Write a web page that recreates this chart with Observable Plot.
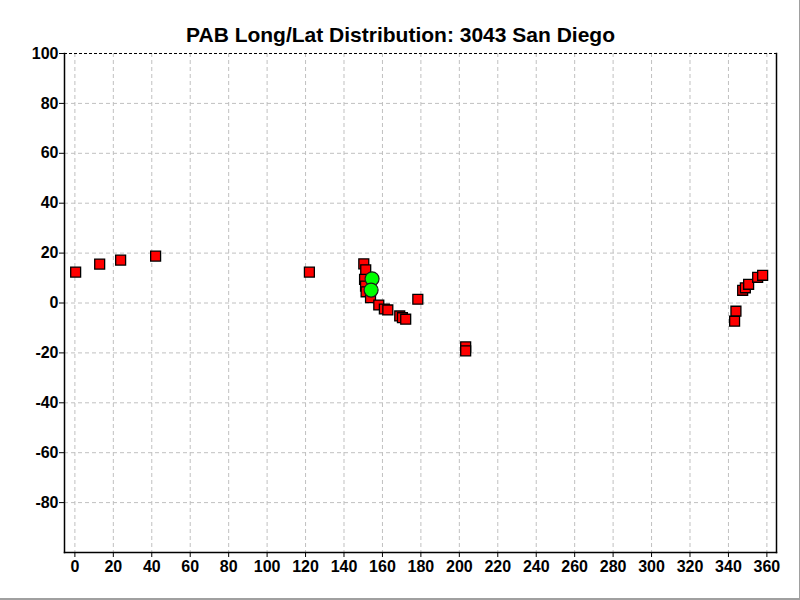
<!DOCTYPE html>
<html>
<head>
<meta charset="utf-8">
<script src="https://cdn.jsdelivr.net/npm/d3@7"></script>
<script src="https://cdn.jsdelivr.net/npm/@observablehq/plot@0.6"></script>
<style>
  html, body { margin: 0; padding: 0; background: #fff; }
  #wrap { position: relative; width: 800px; height: 600px; overflow: hidden; }
  #edge { position: absolute; left: 0; top: 0; width: 799px; height: 598px; border-right: 1px solid #a0a0a0; border-bottom: 2px solid #a0a0a0; pointer-events: none; }
</style>
</head>
<body>
<div id="wrap"><div id="edge"></div></div>
<script>
const title = "PAB Long/Lat Distribution: 3043 San Diego";
const xDomain = [-5.4, 365];
const yDomain = [-100, 100];
const xTicks = [0, 20, 40, 60, 80, 100, 120, 140, 160, 180, 200, 220, 240, 260, 280, 300, 320, 340, 360];
const yTicks = [-80, -60, -40, -20, 0, 20, 40, 60, 80, 100];

// red squares
const squareLon = [0.4, 12.9, 23.8, 42.0, 122.0, 150.3, 151.3, 150.7, 151.2, 151.5, 153.8, 158.1, 161.0, 162.8, 169.0, 170.4, 172.1, 178.4, 203.3, 203.3, 343.9, 343.2, 347.4, 348.8, 350.5, 355.2, 357.8];
const squareLat = [12.4, 15.6, 17.2, 18.8, 12.4, 15.7, 13.3, 9.5, 6.8, 4.5, 2.1, -0.8, -2.4, -2.8, -5.2, -5.9, -6.5, 1.5, -17.6, -19.2, -3.3, -7.3, 5.1, 6.1, 7.5, 10.3, 11.1];
// green circles
const circleLon = [154.6, 154.1];
const circleLat = [9.7, 5.2];

const squares = squareLon.map((lon, i) => ({lon, lat: squareLat[i]}));
const circles = circleLon.map((lon, i) => ({lon, lat: circleLat[i]}));

const font = "'Liberation Sans', Arial, sans-serif";

const chart = Plot.plot({
  width: 800,
  height: 600,
  marginLeft: 64,
  marginRight: 24,
  marginTop: 53,
  marginBottom: 48,
  style: {fontFamily: font, fontSize: "16px", fontWeight: "bold", color: "#000", background: "#fff"},
  x: {domain: xDomain, ticks: xTicks, tickSize: 5, tickPadding: 3, tickFormat: d => String(d), label: null},
  y: {domain: yDomain, ticks: yTicks, tickSize: 5, tickPadding: 1, tickFormat: d => String(d), label: null},
  marks: [
    Plot.ruleX(xTicks, {stroke: "#c0c0c0", strokeOpacity: 1, strokeDasharray: "4,3"}),
    Plot.ruleY(yTicks.slice(0, -1), {stroke: "#c0c0c0", strokeOpacity: 1, strokeDasharray: "4,3"}),
    Plot.frame({anchor: "left", stroke: "#000", strokeWidth: 1.5}),
    Plot.frame({anchor: "bottom", stroke: "#000", strokeWidth: 1.5}),
    Plot.frame({anchor: "right", stroke: "#000", strokeWidth: 1.5}),
    Plot.ruleY(yTicks.slice(-1), {stroke: "#000", strokeDasharray: "3,2", strokeWidth: 1.2}),
    Plot.dot(squares, {x: "lon", y: "lat", symbol: "square", r: 5.6, fill: "#ff0000", stroke: "#000", strokeWidth: 1.3}),
    Plot.dot(circles, {x: "lon", y: "lat", r: 7, fill: "#00ff00", stroke: "#1a1a1a", strokeWidth: 1.2}),
    Plot.text([title], {frameAnchor: "top", dx: -20, dy: -18, lineAnchor: "middle", text: d => d, fontSize: 21, fontWeight: "bold", fill: "#000"})
  ]
});
document.getElementById("wrap").prepend(chart);
</script>
</body>
</html>
